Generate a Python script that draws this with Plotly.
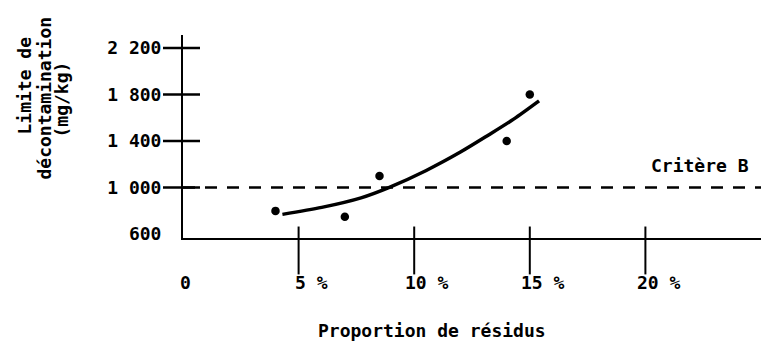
import plotly.graph_objects as go

# Measured points: residue proportion (%) vs decontamination limit (mg/kg)
prop_pts = [4, 7, 8.5, 14, 15]
limit_pts = [800, 750, 1100, 1400, 1800]

# Fitted trend curve
prop_fit = [4.3, 6.0, 7.7, 8.9, 10.5, 12.0, 13.2, 14.3, 15.4]
limit_fit = [770, 830, 912, 1000, 1145, 1305, 1450, 1588, 1745]

# Criterion B threshold
critere_b = 1000

# Axis ticks
y_tickvals = [600, 1000, 1400, 1800, 2200]
y_ticktext = ["600", "1 000", "1 400", "1 800", "2 200"]
x_tickvals = [0, 5, 10, 15, 20]
x_ticktext = ["0", "5 %", "10 %", "15 %", "20 %"]

FONT = "DejaVu Sans Mono"
FS = 18
CW = FS * 0.602  # monospace character width

X_RANGE = [0, 25]
Y_RANGE = [567, 2311]

fig = go.Figure()

# Criterion B dashed line
fig.add_trace(go.Scatter(
    x=X_RANGE, y=[critere_b, critere_b], mode="lines",
    line=dict(color="black", width=2.5, dash="12px,10px"),
    hoverinfo="skip", showlegend=False, cliponaxis=False,
))

# Trend curve
fig.add_trace(go.Scatter(
    x=prop_fit, y=limit_fit, mode="lines",
    line=dict(color="black", width=3.5, shape="spline", smoothing=0.8),
    showlegend=False,
))

# Data points
fig.add_trace(go.Scatter(
    x=prop_pts, y=limit_pts, mode="markers",
    marker=dict(color="black", size=8.5),
    showlegend=False,
))

shapes = []
# Y tick marks crossing the axis
for v in y_tickvals[1:]:
    shapes.append(dict(type="line", xref="paper", yref="y",
                       x0=-20 / 578, x1=17 / 578, y0=v, y1=v,
                       line=dict(color="black", width=2.5)))
# X tick marks crossing the axis
for v in x_tickvals[1:]:
    shapes.append(dict(type="line", xref="x", yref="paper",
                       x0=v, x1=v, y0=11.5 / 203.5, y1=-36.5 / 203.5,
                       line=dict(color="black", width=2)))

annotations = []
# X tick labels: the number centred under its tick
for v, t in zip(x_tickvals, x_ticktext):
    num_len = len(str(v))
    annotations.append(dict(
        x=v, xref="x", y=0, yref="paper", yshift=-44.5,
        text=t, showarrow=False, xanchor="left", yanchor="middle",
        xshift=-num_len * CW / 2,
        font=dict(family=FONT, size=FS, color="black", weight="bold"),
    ))

# X axis title
annotations.append(dict(
    x=0, xref="paper", xshift=432 - 183, y=0, yref="paper", yshift=-(331 - 238.5),
    text="Proportion de résidus", showarrow=False,
    xanchor="center", yanchor="middle",
    font=dict(family=FONT, size=FS, color="black", weight="bold"),
))

# Y axis title, three rotated lines
for txt, px, py in [("Limite de", 24, 86), ("décontamination", 44, 99), ("(mg/kg)", 61, 100)]:
    annotations.append(dict(
        x=0, xref="paper", xshift=px - 183, y=0, yref="paper", yshift=238.5 - py,
        text=txt, showarrow=False, textangle=-90,
        xanchor="center", yanchor="middle",
        font=dict(family=FONT, size=FS, color="black", weight="bold"),
    ))

# Criterion label
annotations.append(dict(
    x=0, xref="paper", xshift=700 - 183, y=critere_b, yref="y", yshift=188 - 166,
    text="Critère B", showarrow=False, xanchor="center", yanchor="middle",
    font=dict(family=FONT, size=FS, color="black", weight="bold"),
))

fig.update_layout(
    width=761, height=342, autosize=False,
    margin=dict(l=183, r=0, t=35, b=103.5, pad=0),
    paper_bgcolor="white", plot_bgcolor="white",
    shapes=shapes, annotations=annotations,
    xaxis=dict(range=X_RANGE, showgrid=False, zeroline=False,
               showline=True, linecolor="black", linewidth=2,
               showticklabels=False, ticks=""),
    yaxis=dict(range=Y_RANGE, showgrid=False, zeroline=False,
               showline=True, linecolor="black", linewidth=2,
               tickvals=y_tickvals, ticktext=y_ticktext, ticks="",
               ticklabelstandoff=16,
               tickfont=dict(family=FONT, size=FS, color="black", weight="bold")),
)

fig.write_html("out.html")
